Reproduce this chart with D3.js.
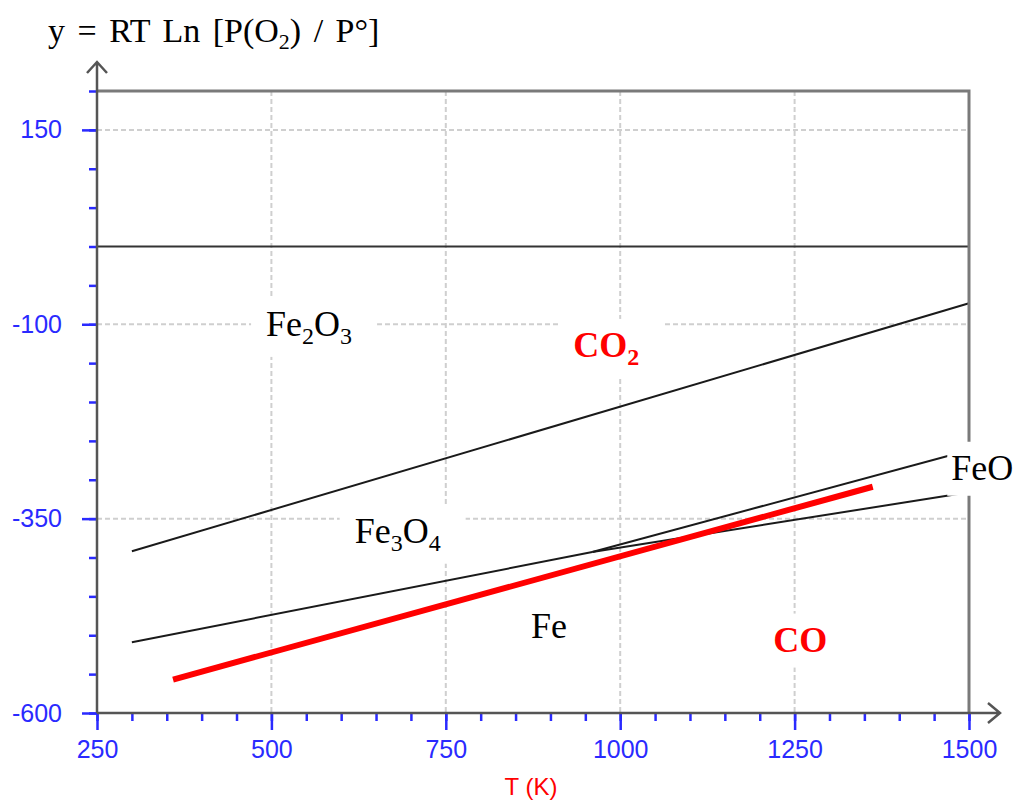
<!DOCTYPE html>
<html>
<head>
<meta charset="utf-8">
<script src="https://cdn.jsdelivr.net/npm/d3@7"></script>
<style>
  body { margin: 0; background: #fff; }
  .tick text { font-family: "Liberation Sans", Arial, sans-serif; }
</style>
</head>
<body>
<div id="graph"></div>
<script>
// axis ticks
var xTicks = [250, 500, 750, 1000, 1250, 1500];
var yTicks = [150, -100, -350, -600];

// boundary lines, [T (K), y]
var hematiteLine = [[300, -392], [1500, -73]];   // Fe2O3 / Fe3O4
var magnetiteFeLine = [[300, -509], [960, -393]]; // Fe3O4 / Fe
var magnetiteWustLine = [[960, -393], [1500, -262]]; // Fe3O4 / FeO
var wustiteFeLine = [[960, -393], [1500, -316]];  // FeO / Fe
var zeroLine = [[250, 0], [1500, 0]];
var coLine = [[359, -557], [1362, -309]];          // CO / CO2

// region labels: [text, subscript] pieces, anchored at [T, y]
var labelParts = [
  [["Fe", 0], ["2", 1], ["O", 0], ["3", 1]],
  [["CO", 0], ["2", 1]],
  [["Fe", 0], ["3", 1], ["O", 0], ["4", 1]],
  [["FeO", 0]],
  [["Fe", 0]],
  [["CO", 0]]
];
var labelAt = [[554, -115], [980, -142], [681, -381], [1519, -300], [898, -504], [1258, -521]];
var labelRed = [false, true, false, false, false, true];

var w = 1015, h = 800;
var x = d3.scaleLinear().domain([250, 1500]).range([97, 969]);
var y = d3.scaleLinear().domain([-600, 200]).range([713, 91]);

var svg = d3.select("#graph").append("svg")
  .attr("width", w)
  .attr("height", h);

var line = d3.line()
  .x(function(d) { return x(d[0]); })
  .y(function(d) { return y(d[1]); });

// grid
svg.append("g").selectAll("line")
  .data(xTicks.slice(1, -1))
  .enter().append("line")
  .attr("x1", function(d) { return x(d); })
  .attr("x2", function(d) { return x(d); })
  .attr("y1", y(200)).attr("y2", y(-600))
  .attr("stroke", "#cfcfcf").attr("stroke-width", 2)
  .attr("stroke-dasharray", "5,3");
svg.append("g").selectAll("line")
  .data(yTicks.slice(0, -1))
  .enter().append("line")
  .attr("x1", x(250)).attr("x2", x(1500))
  .attr("y1", function(d) { return y(d); })
  .attr("y2", function(d) { return y(d); })
  .attr("stroke", "#cfcfcf").attr("stroke-width", 2)
  .attr("stroke-dasharray", "5,3");

// boundary lines
[zeroLine, hematiteLine, magnetiteFeLine, magnetiteWustLine, wustiteFeLine].forEach(function(l, i) {
  svg.append("path")
    .attr("d", line(l))
    .attr("fill", "none")
    .attr("stroke", i == 0 ? "#333" : "#1a1a1a")
    .attr("stroke-width", 2);
});

svg.append("path")
  .attr("d", line(coLine))
  .attr("fill", "none")
  .attr("stroke", "#ff0000")
  .attr("stroke-width", 6);

// frame: top and right border
svg.append("path")
  .attr("d", "M" + x(250) + "," + y(200) + "H" + x(1500) + "V" + y(-600))
  .attr("fill", "none")
  .attr("stroke", "#7a7a7a")
  .attr("stroke-width", 3);

// axes
var blue = "#2a2aff";
var fmt = function(d) { return String(d); };
var yAxis = d3.axisLeft(y).tickValues(yTicks).tickSize(15).tickPadding(20).tickFormat(fmt);
var yMinor = d3.axisLeft(y).tickValues(d3.range(-600, 201, 50)).tickSize(8).tickFormat("");
var xAxis = d3.axisBottom(x).tickValues(xTicks).tickSize(17).tickPadding(10).tickFormat(fmt);
var xMinor = d3.axisBottom(x).tickValues(d3.range(250, 1501, 50)).tickSize(8).tickFormat("");

[[yMinor, "translate(" + x(250) + ",0)"], [xMinor, "translate(0," + y(-600) + ")"],
 [yAxis, "translate(" + x(250) + ",0)"], [xAxis, "translate(0," + y(-600) + ")"]].forEach(function(a) {
  var g = svg.append("g").attr("transform", a[1]).call(a[0]);
  g.select(".domain").remove();
  g.selectAll(".tick line").attr("stroke", blue).attr("stroke-width", 2.5);
  g.selectAll(".tick text").attr("fill", blue).attr("font-size", 25);
});

// axis lines with arrows
svg.append("path")
  .attr("d", "M" + x(250) + "," + y(-600) + "V62M87,73L97,62L107,73")
  .attr("fill", "none").attr("stroke", "#555").attr("stroke-width", 2.5);
svg.append("path")
  .attr("d", "M" + x(250) + "," + y(-600) + "H1000M988,703L1000,713L988,723")
  .attr("fill", "none").attr("stroke", "#555").attr("stroke-width", 2.5);

// axis titles
var title = svg.append("text")
  .attr("x", 48).attr("y", 42)
  .attr("font-family", "'Liberation Serif', 'Times New Roman', serif")
  .attr("font-size", 34)
  .attr("word-spacing", 4)
  .attr("fill", "#000");
title.append("tspan").text("y = RT Ln [P(O");
title.append("tspan").attr("font-size", 22).attr("dy", 7).text("2");
title.append("tspan").attr("dy", -7).text(") / P°]");

svg.append("text")
  .attr("x", 531).attr("y", 795)
  .attr("text-anchor", "middle")
  .attr("font-family", "'Liberation Sans', Arial, sans-serif")
  .attr("font-size", 24)
  .attr("fill", "#ff0000")
  .text("T (K)");

// region labels on white boxes
labelParts.forEach(function(parts, i) {
  var g = svg.append("g");
  var box = g.append("rect").attr("fill", "#fff");
  var t = g.append("text")
    .attr("x", x(labelAt[i][0])).attr("y", y(labelAt[i][1]))
    .attr("text-anchor", "middle")
    .attr("font-family", "'Liberation Serif', 'Times New Roman', serif")
    .attr("font-size", 36)
    .attr("font-weight", labelRed[i] ? "bold" : "normal")
    .attr("fill", labelRed[i] ? "#ff0000" : "#000");
  var down = 0;
  parts.forEach(function(p) {
    var s = t.append("tspan").text(p[0]);
    if (p[1]) { s.attr("font-size", 24).attr("dy", 8 - down); down = 8; }
    else if (down) { s.attr("dy", -down); down = 0; }
  });
  var b = t.node().getBBox();
  var padL = labelAt[i][0] > 1500 ? 4 : 15;
  box.attr("x", b.x - padL).attr("y", b.y - 6)
    .attr("width", b.width + padL + 25).attr("height", b.height + 14);
});
</script>
</body>
</html>
